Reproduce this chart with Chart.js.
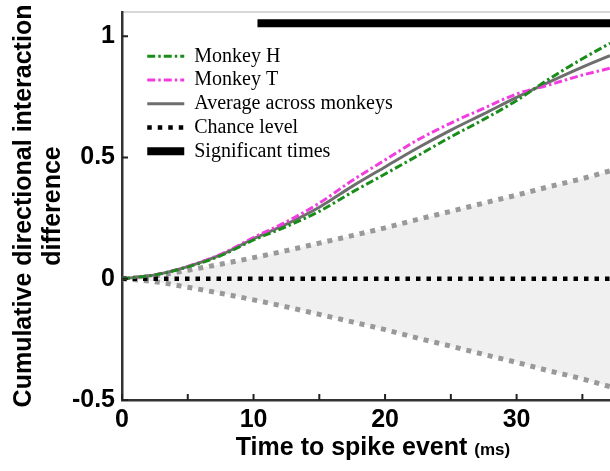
<!DOCTYPE html>
<html><head><meta charset="utf-8">
<script src="https://cdn.jsdelivr.net/npm/chart.js@4.4.1/dist/chart.umd.min.js"></script>
<style>html,body{margin:0;padding:0;background:#fff;overflow:hidden}#wrap{width:610px;height:471px;position:relative}</style>
</head><body><div id="wrap"><canvas id="c" width="610" height="471"></canvas></div>
<script>
// ---- data ----
const timeMs      = [0, 2.5, 5, 7.5, 10, 12.5, 15, 17.5, 20, 22.5, 25, 27.5, 30, 32.5, 35, 37.1];
const monkeyH     = [0, 0.016, 0.049, 0.095, 0.160, 0.215, 0.278, 0.357, 0.432, 0.508, 0.585, 0.657, 0.735, 0.825, 0.907, 0.971];
const monkeyT     = [0, 0.016, 0.051, 0.101, 0.170, 0.235, 0.312, 0.405, 0.490, 0.573, 0.642, 0.703, 0.762, 0.800, 0.840, 0.868];
const average     = [0, 0.016, 0.050, 0.098, 0.165, 0.225, 0.295, 0.381, 0.461, 0.540, 0.613, 0.680, 0.748, 0.812, 0.873, 0.920];
const chanceUpper = [0, 0.012, 0.035, 0.060, 0.087, 0.116, 0.147, 0.178, 0.210, 0.245, 0.278, 0.312, 0.345, 0.380, 0.413, 0.445];
const chanceLower = [0, -0.012, -0.035, -0.060, -0.087, -0.116, -0.147, -0.178, -0.210, -0.245, -0.278, -0.312, -0.345, -0.380, -0.413, -0.445];
const chanceLevelX = [0, 37.1];
const chanceLevelY = [0, 0];
const sigTimesX = [10.3, 37.1];
const sigTimesY = [1.054, 1.054];
const xTicks = [0, 5, 10, 15, 20, 25, 30, 35];
const xTickLabels = ['0', '', '10', '', '20', '', '30', ''];
const yTicks = [-0.5, 0, 0.5, 1];
const yTickLabels = ['-0.5', '0', '0.5', '1'];
const seriesNames = ['Monkey H', 'Monkey T', 'Average across monkeys', 'Chance level', 'Significant times'];
const yTitle = ['Cumulative directional interaction', 'difference'];
const xTitleMain = 'Time to spike event';
const xTitleUnit = '(ms)';
const xMin = 0, xMax = 37.1, yMin = -0.5, yMax = 1.1;

const pts = (xs, ys) => xs.map((x, i) => ({x: x, y: ys[i]}));
const SANS = '"Liberation Sans", Arial, sans-serif';

const innerTicks = {
  id: 'innerTicks',
  afterDatasetsDraw(chart) {
    const {ctx, chartArea: a, scales: {x, y}} = chart;
    ctx.save();
    ctx.strokeStyle = '#222'; ctx.lineWidth = 2;
    ctx.beginPath();
    x.ticks.forEach(t => { const px = x.getPixelForValue(t.value); ctx.moveTo(px, a.bottom); ctx.lineTo(px, a.bottom - 6); });
    y.ticks.forEach(t => { const py = y.getPixelForValue(t.value); ctx.moveTo(a.left, py); ctx.lineTo(a.left + 6, py); });
    ctx.stroke();
    ctx.restore();
  }
};

const xTitlePlugin = {
  id: 'xTitlePlugin',
  afterDraw(chart) {
    const {ctx, chartArea: a} = chart;
    ctx.save();
    ctx.fillStyle = '#000'; ctx.textBaseline = 'alphabetic'; ctx.textAlign = 'left';
    const f1 = 'bold 25px ' + SANS, f2 = 'bold 17px ' + SANS;
    ctx.font = f1; const w1 = ctx.measureText(xTitleMain + ' ').width;
    ctx.font = f2; const w2 = ctx.measureText(xTitleUnit).width;
    const cx = (a.left + a.right) / 2 + 7;
    const x0 = cx - (w1 + w2) / 2;
    const yb = a.bottom + 55;
    ctx.font = f1; ctx.fillText(xTitleMain + ' ', x0, yb);
    ctx.font = f2; ctx.fillText(xTitleUnit, x0 + w1, yb);
    ctx.restore();
  }
};

const legendPlace = {
  id: 'legendPlace',
  afterLayout(chart) {
    const lg = chart.legend, a = chart.chartArea;
    const w = lg.width, h = lg.height;
    lg.left = a.left + 21.5; lg.top = a.top + 30.5;
    lg.right = lg.left + w; lg.bottom = lg.top + h;
  }
};

const noPad = s => { s.paddingTop = 0; s.paddingBottom = 0; s.paddingLeft = 0; s.paddingRight = 0; };
const dashDot = [8, 3, 2.5, 3];

new Chart(document.getElementById('c'), {
  type: 'line',
  data: {
    datasets: [
      {label: seriesNames[0], data: pts(timeMs, monkeyH), borderColor: '#1a8c1a', backgroundColor: '#1a8c1a', borderWidth: 3, borderDash: dashDot, cubicInterpolationMode: 'monotone', pointRadius: 0, fill: false},
      {label: seriesNames[1], data: pts(timeMs, monkeyT), borderColor: '#f23ce0', backgroundColor: '#f23ce0', borderWidth: 3, borderDash: dashDot, cubicInterpolationMode: 'monotone', pointRadius: 0, fill: false},
      {label: seriesNames[2], data: pts(timeMs, average), borderColor: '#6e6e6e', backgroundColor: '#6e6e6e', borderWidth: 3, cubicInterpolationMode: 'monotone', pointRadius: 0, fill: false},
      {label: seriesNames[3], data: pts(chanceLevelX, chanceLevelY), borderColor: '#000', backgroundColor: '#000', borderWidth: 4.5, borderDash: [4.5, 6], pointRadius: 0, fill: false},
      {label: seriesNames[4], data: pts(sigTimesX, sigTimesY), borderColor: '#000', backgroundColor: '#000', borderWidth: 8, pointRadius: 0, fill: false},
      {label: 'upper', data: pts(timeMs, chanceUpper), borderColor: '#999', backgroundColor: '#f0f0f0', borderWidth: 5, borderDash: [5, 6], cubicInterpolationMode: 'monotone', pointRadius: 0, fill: '+1'},
      {label: 'lower', data: pts(timeMs, chanceLower), borderColor: '#999', backgroundColor: '#f0f0f0', borderWidth: 5, borderDash: [5, 6], cubicInterpolationMode: 'monotone', pointRadius: 0, fill: false}
    ]
  },
  options: {
    responsive: false, animation: false, devicePixelRatio: 1,
    layout: {padding: {top: 12, left: 0, right: 0, bottom: 0}},
    plugins: {
      filler: {propagate: false, drawTime: 'beforeDatasetsDraw'},
      tooltip: {enabled: false},
      legend: {
        position: 'chartArea', align: 'start',
        labels: {
          filter: item => item.datasetIndex < 5,
          usePointStyle: true, pointStyle: 'line', pointStyleWidth: 37,
          padding: 3.75, color: '#000',
          font: {family: '"Liberation Serif", "Times New Roman", serif', size: 20},
          generateLabels: chart => chart.data.datasets.map((ds, i) => ({
            text: ds.label, datasetIndex: i, hidden: false,
            fillStyle: ds.borderColor, strokeStyle: ds.borderColor,
            lineWidth: ds.borderWidth, lineDash: ds.borderDash || [], lineCap: 'butt',
            pointStyle: 'line', fontColor: '#000'
          }))
        }
      }
    },
    scales: {
      x: {
        type: 'linear', position: 'bottom', min: xMin, max: xMax,
        afterBuildTicks: s => { s.ticks = xTicks.map(v => ({value: v})); },
        afterFit: s => { s.height = 71; noPad(s); },
        grid: {drawOnChartArea: false, drawTicks: false},
        border: {color: '#333', width: 2.5},
        ticks: {autoSkip: false, maxRotation: 0, padding: 5, color: '#000',
          font: {family: SANS, size: 25, weight: 'bold'},
          callback: v => xTickLabels[xTicks.indexOf(v)]}
      },
      x2: {
        type: 'linear', position: 'top', min: xMin, max: xMax,
        grid: {drawOnChartArea: false, drawTicks: false},
        border: {color: '#d8d8d8', width: 2},
        ticks: {display: false},
        afterFit: s => { s.height = 0; noPad(s); }
      },
      y: {
        type: 'linear', min: yMin, max: yMax,
        afterBuildTicks: s => { s.ticks = yTicks.map(v => ({value: v})); },
        afterFit: s => { s.width = 122; noPad(s); },
        grid: {drawOnChartArea: false, drawTicks: false},
        border: {color: '#333', width: 2.5},
        ticks: {padding: 7, color: '#000', font: {family: SANS, size: 25, weight: 'bold'},
          callback: v => yTickLabels[yTicks.indexOf(v)]},
        title: {display: true, text: yTitle, color: '#000',
          font: {family: SANS, size: 25, weight: 'bold', lineHeight: 1.16},
          padding: {top: 9.5, bottom: 0}}
      }
    }
  },
  plugins: [innerTicks, xTitlePlugin, legendPlace]
});
</script>
</body></html>
